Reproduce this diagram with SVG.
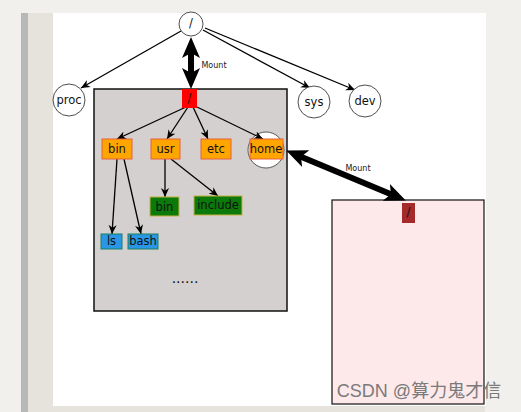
<svg xmlns="http://www.w3.org/2000/svg" width="521" height="412" viewBox="0 0 521 412">
<style>
text{font-family:"DejaVu Sans","Noto Sans",sans-serif;font-size:11.5px;fill:#111;text-anchor:middle;dominant-baseline:central}
.c{fill:#fff;stroke:#222;stroke-width:0.8}
.o{fill:#ffa500;stroke:#e8603c;stroke-width:1}
.g{fill:#0b7a0b;stroke:#c8b040;stroke-width:1}
.b{fill:#2a96e6;stroke:#1a8060;stroke-width:1}
.e{stroke:#000;stroke-width:1.3;fill:none;marker-end:url(#ah)}
.m{stroke:#000;stroke-width:6;fill:none;marker-start:url(#big);marker-end:url(#big)}
.ml{font-size:8px;fill:#222}
</style>
<defs>
<marker id="ah" viewBox="0 0 10 10" refX="10" refY="5" markerWidth="9" markerHeight="9" markerUnits="userSpaceOnUse" orient="auto"><path d="M0,0.5 L10,5 L0,9.5 L3,5 z" fill="#000"/></marker>
<marker id="big" viewBox="0 0 21 18" refX="5" refY="9" markerWidth="21" markerHeight="18" markerUnits="userSpaceOnUse" orient="auto-start-reverse"><path d="M0,0 L21,9 L0,18 L5,9 z" fill="#000"/></marker>
</defs>
<rect x="0" y="0" width="521" height="412" fill="#f1f0ec"/>
<rect x="21" y="13" width="7" height="399" fill="#b8b8b8"/>
<rect x="28" y="13" width="25" height="399" fill="#e6e3dc"/>
<rect x="53" y="406" width="432" height="6" fill="#e6e3dc"/>
<rect x="53" y="13" width="433" height="393" fill="#fff"/>
<g id="usrfs"><rect x="94" y="89" width="193" height="222" fill="#d3d0cf" stroke="#111" stroke-width="1.5"/></g>
<g id="devfs"><rect x="332" y="200" width="152" height="204" fill="#fde9ea" stroke="#111" stroke-width="1.2"/></g>
<g id="home_ring"><circle cx="266" cy="150" r="18" fill="#fff" stroke="#333" stroke-width="0.8"/></g>
<g id="connectors">
<path class="e" d="M181,31 L81,88"/>
<path class="e" d="M203,30 L310,88"/>
<path class="e" d="M205,28 L355,90"/>
<path class="e" d="M186,107 L117,139"/>
<path class="e" d="M188,107 L167,139"/>
<path class="e" d="M193,107 L208,139"/>
<path class="e" d="M197,107 L263,139"/>
<path class="e" d="M117,159 L112,234"/>
<path class="e" d="M124,159 L141,234"/>
<path class="e" d="M165,159 L165,197"/>
<path class="e" d="M171,159 L218,196"/>
<path class="m" d="M191,53 L191,73"/>
<path class="m" d="M301,156.7 L391,194.3"/>
<text class="ml" x="214" y="65">Mount</text>
<text class="ml" x="358" y="168">Mount</text>
</g>
<g id="root"><circle class="c" cx="191" cy="24" r="12"/><text x="191" y="23">/</text></g>
<g id="proc"><circle class="c" cx="69" cy="100" r="16"/><text x="69" y="100">proc</text></g>
<g id="sys"><circle class="c" cx="314" cy="102" r="16"/><text x="314" y="102">sys</text></g>
<g id="dev"><circle class="c" cx="365" cy="101" r="16"/><text x="365" y="101">dev</text></g>
<g id="root2"><rect x="182" y="89" width="15" height="19" fill="#f00"/><text x="189.5" y="98">/</text></g>
<g id="bin"><rect class="o" x="102" y="139" width="30" height="20"/><text x="117" y="149">bin</text></g>
<g id="usr"><rect class="o" x="151" y="139" width="29" height="20"/><text x="165.5" y="149">usr</text></g>
<g id="etc"><rect class="o" x="201" y="139" width="30" height="20"/><text x="216" y="149">etc</text></g>
<g id="home"><rect class="o" x="250" y="139" width="33" height="20"/><text x="266" y="149">home</text></g>
<g id="usrbin"><rect class="g" x="150" y="197" width="29" height="19"/><text x="164.5" y="206.5">bin</text></g>
<g id="include"><rect class="g" x="194" y="196" width="48" height="19"/><text x="218" y="205">include</text></g>
<g id="ls"><rect class="b" x="101" y="234" width="21" height="15"/><text x="111.5" y="241">ls</text></g>
<g id="bash"><rect class="b" x="128" y="234" width="30" height="15"/><text x="143" y="241">bash</text></g>
<text x="185" y="278" style="font-size:14px">......</text>
<g id="dev_root"><rect x="402" y="203" width="13" height="20" fill="#a52a2a"/><text x="408.5" y="212">/</text></g>
<text x="419" y="391" style="font-family:'Liberation Sans','Noto Sans CJK SC',sans-serif;font-size:18px;fill:#7a7a7a">CSDN @算力鬼才信</text>
</svg>
